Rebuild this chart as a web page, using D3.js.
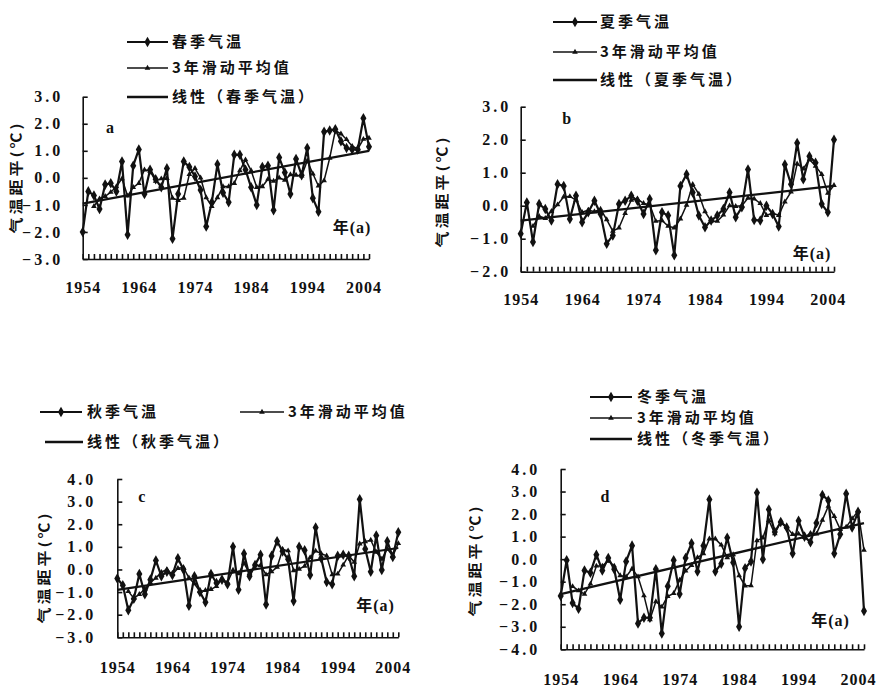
<!DOCTYPE html>
<html>
<head>
<meta charset="utf-8">
<script src="https://cdn.jsdelivr.net/npm/d3@7"></script>
<style>
body { margin: 0; background: #fff; }
text { fill: #111; }
</style>
</head>
<body>
<svg id="chart" width="878" height="687"></svg>
<script>
// years on the x axis
var years = [1954,1955,1956,1957,1958,1959,1960,1961,1962,1963,
             1964,1965,1966,1967,1968,1969,1970,1971,1972,1973,
             1974,1975,1976,1977,1978,1979,1980,1981,1982,1983,
             1984,1985,1986,1987,1988,1989,1990,1991,1992,1993,
             1994,1995,1996,1997,1998,1999,2000,2001,2002,2003,
             2004,2005];
var yearLabels = [1954, 1964, 1974, 1984, 1994, 2004];

// spring (a)
var springTemp = [-2.0,-0.5,-0.65,-1.15,-0.25,-0.2,-0.5,0.6,-2.1,0.45,
                  1.05,-0.6,0.3,-0.05,-0.35,0.35,-2.25,-0.6,0.6,0.4,
                  0.05,-0.45,-1.8,-0.9,0.5,-0.55,-0.9,0.85,0.85,0.3,
                  -0.35,-1.0,0.4,0.45,-1.2,0.75,0.2,-0.6,0.7,0.1,
                  1.1,-0.75,-1.25,1.7,1.75,1.8,1.35,1.1,1.05,1.05,
                  2.2,1.15];
var springMA = [null,null,-1.05,-0.77,-0.68,-0.53,-0.32,-0.03,-0.67,-0.35,
                -0.2,0.3,0.25,-0.12,-0.03,-0.02,-0.75,-0.83,-0.75,0.13,
                0.35,0.0,-0.73,-1.05,-0.73,-0.32,-0.32,-0.2,0.27,0.67,
                0.27,-0.35,-0.32,-0.05,-0.12,0.0,-0.08,0.12,0.1,0.07,
                0.63,0.15,-0.3,-0.1,0.73,1.75,1.63,1.42,1.17,1.07,
                1.43,1.47];
var springTrend = [-0.95, 1.0];

// summer (b)
var summerTemp = [-0.85,0.1,-1.1,0.05,-0.1,-0.45,0.65,0.6,-0.4,0.3,
                  -0.5,-0.2,0.15,-0.25,-1.15,-0.9,0.05,0.15,0.3,0.15,
                  -0.25,0.2,-1.35,-0.2,-0.3,-1.5,0.6,0.95,0.4,-0.3,
                  -0.65,-0.45,-0.3,-0.1,0.4,-0.35,-0.05,1.1,-0.43,-0.45,
                  0.0,-0.25,-0.63,1.25,0.65,1.9,0.8,1.5,1.3,0.05,
                  -0.2,2.0];
var summerMA = [null,null,-0.62,-0.32,-0.38,-0.17,0.03,0.27,0.28,0.17,
                -0.2,-0.13,-0.18,-0.1,-0.42,-0.77,-0.67,-0.23,0.17,0.2,
                0.07,0.03,-0.47,-0.45,-0.62,-0.67,-0.4,0.02,0.65,0.35,
                -0.18,-0.47,-0.47,-0.28,0.0,-0.02,0.0,0.23,0.21,0.07,
                -0.29,-0.23,-0.29,0.12,0.42,1.27,1.12,1.4,1.2,0.95,
                0.38,0.62];
var summerTrend = [-0.45, 0.6];

// autumn (c)
var autumnTemp = [-0.4,-0.7,-1.8,-1.3,-0.2,-1.1,-0.45,0.4,-0.3,-0.1,
                  -0.25,0.5,0.0,-1.6,-0.3,-1.0,-1.45,-0.2,-0.6,-0.45,
                  -0.65,1.0,-0.9,0.7,-0.3,0.2,0.65,-1.55,0.6,1.25,
                  0.8,0.45,-1.4,1.0,0.85,-0.25,1.85,0.5,-0.55,-0.65,
                  0.6,0.65,0.6,-0.3,3.1,0.9,-0.1,1.5,-0.02,1.25,
                  0.55,1.65];
var autumnMA = [null,null,-0.97,-1.27,-1.1,-0.87,-0.58,-0.38,-0.12,0.0,
                -0.22,0.05,0.08,-0.37,-0.63,-0.97,-0.92,-0.88,-0.75,-0.42,
                -0.57,-0.03,-0.18,0.27,-0.17,0.2,0.18,-0.23,-0.1,0.1,
                0.88,0.83,-0.05,0.02,0.15,0.53,0.82,0.7,0.6,-0.23,
                -0.2,0.2,0.62,0.32,1.13,1.23,1.3,0.77,0.46,0.91,
                0.59,1.15];
var autumnTrend = [-0.9, 0.95];

// winter (d)
var winterTemp = [-1.63,-0.05,-1.95,-2.2,-0.5,-0.6,0.2,-0.5,0.05,-0.45,
                  -1.8,-0.1,0.6,-2.85,-2.6,-2.6,-0.45,-3.3,-1.2,-0.05,
                  -1.55,0.05,0.7,-0.55,0.6,2.65,-0.55,-0.2,0.95,-0.15,
                  -3.0,-0.4,-0.1,2.95,0.0,2.2,1.2,1.65,1.4,0.25,
                  1.7,1.0,0.75,1.6,2.85,2.6,0.25,1.1,2.9,1.4,
                  2.1,-2.3];
var winterMA = [null,null,-1.21,-1.4,-1.55,-1.1,-0.3,-0.3,-0.08,-0.3,
                -0.73,-0.78,-0.43,-0.78,-1.62,-2.68,-1.88,-2.12,-1.65,-1.52,
                -0.93,-0.52,-0.27,0.07,0.25,0.9,0.9,0.63,0.07,0.2,
                -0.73,-1.18,-1.17,0.82,0.95,1.72,1.13,1.68,1.42,1.1,
                1.12,0.98,1.15,1.12,1.73,2.35,1.9,1.32,1.42,1.8,
                2.13,0.4];
var winterTrend = [-1.55, 1.6];

var ticksA = [3, 2, 1, 0, -1, -2, -3];
var ticksB = [3, 2, 1, 0, -1, -2];
var ticksC = [4, 3, 2, 1, 0, -1, -2, -3];
var ticksD = [4, 3, 2, 1, 0, -1, -2, -3, -4];

var maLabel = "3年滑动平均值";

// layout of the four panels
var panels = [
  {name: "春季气温", temp: springTemp, ma: springMA, trend: springTrend, ticks: ticksA, tag: "a",
   left: 82.7, right: 369, top: 96.7, bottom: 259, yPad: 19.5, xPad: 23,
   title: [16, 177], tagPos: [110, 127], unitPos: [352, 227],
   legend: [[127, 168, 42, 172], [127, 168, 68, 172], [127, 168, 97, 172]]},
  {name: "夏季气温", temp: summerTemp, ma: summerMA, trend: summerTrend, ticks: ticksB, tag: "b",
   left: 520.7, right: 834, top: 106.7, bottom: 271.7, yPad: 9.5, xPad: 22,
   title: [442, 191], tagPos: [566.7, 118.3], unitPos: [812, 253],
   legend: [[553, 597, 22, 600], [553, 597, 52, 600], [553, 597, 80, 600]]},
  {name: "秋季气温", temp: autumnTemp, ma: autumnMA, trend: autumnTrend, ticks: ticksC, tag: "c",
   left: 117.3, right: 398.3, top: 479, bottom: 637.3, yPad: 21, xPad: 24,
   title: [44, 567], tagPos: [141.7, 496.7], unitPos: [375.5, 605],
   legend: [[40, 82, 412, 87], [240, 284, 412, 288], [45, 83, 442, 87]]},
  {name: "冬季气温", temp: winterTemp, ma: winterMA, trend: winterTrend, ticks: ticksD, tag: "d",
   left: 560.7, right: 864, top: 469, bottom: 649.3, yPad: 20.5, xPad: 24,
   title: [475, 560], tagPos: [605, 496.7], unitPos: [830.5, 620],
   legend: [[590, 632, 397, 637], [590, 632, 418, 637], [590, 632, 439, 637]]}
];

var ink = "#111";
var cjk = "'Noto Sans CJK SC', sans-serif";
var serif = "'Liberation Serif', 'Noto Sans CJK SC', serif";

var svg = d3.select("#chart");
var fmt = d3.format(".1f");
var diamond = d3.symbol().type(d3.symbolDiamond).size(32);
var triangle = d3.symbol().type(d3.symbolTriangle).size(14);

panels.forEach(function(p) {
    var g = svg.append("g");

    var x = d3.scaleLinear().domain([years[0], years[years.length - 1]]).range([p.left, p.right]);
    var y = d3.scaleLinear().domain(d3.extent(p.ticks)).range([p.bottom, p.top]);

    // yearly ticks pointing up
    g.append("g")
        .attr("transform", "translate(0," + p.bottom + ")")
        .call(d3.axisBottom(x).tickValues(years).tickSize(-5).tickSizeOuter(0).tickFormat(""));

    // year labels
    g.append("g")
        .attr("transform", "translate(0," + p.bottom + ")")
        .call(d3.axisBottom(x).tickValues(yearLabels).tickSize(0).tickPadding(p.xPad).tickFormat(d3.format("d")))
        .call(function(s) { s.select(".domain").remove(); })
        .selectAll("text")
            .attr("font-family", serif).attr("font-weight", "bold")
            .attr("font-size", 16).attr("letter-spacing", "1px");

    // value axis
    g.append("g")
        .attr("transform", "translate(" + p.left + ",0)")
        .call(d3.axisLeft(y).tickValues(p.ticks).tickSize(-5).tickSizeOuter(0).tickPadding(p.yPad).tickFormat(fmt))
        .selectAll("text")
            .attr("font-family", serif).attr("font-weight", "bold")
            .attr("font-size", 16).attr("letter-spacing", "3px");

    g.selectAll(".domain, .tick line").attr("stroke", ink).attr("stroke-width", 1.6);

    // linear trend
    g.append("path")
        .datum([[years[0], p.trend[0]], [years[years.length - 1], p.trend[1]]])
        .attr("fill", "none").attr("stroke", ink).attr("stroke-width", 2.2)
        .attr("d", d3.line().x(function(d) { return x(d[0]); }).y(function(d) { return y(d[1]); }));

    // 3-year moving average
    var maPts = years.map(function(yr, i) { return [yr, p.ma[i]]; })
        .filter(function(d) { return d[1] !== null; });
    g.append("path")
        .datum(maPts)
        .attr("fill", "none").attr("stroke", ink).attr("stroke-width", 1.5)
        .attr("d", d3.line().x(function(d) { return x(d[0]); }).y(function(d) { return y(d[1]); }));
    g.append("g").selectAll("path")
        .data(maPts).enter().append("path")
            .attr("transform", function(d) { return "translate(" + x(d[0]) + "," + y(d[1]) + ")"; })
            .attr("d", triangle).attr("fill", ink);

    // seasonal temperature anomaly
    var pts = years.map(function(yr, i) { return [yr, p.temp[i]]; });
    g.append("path")
        .datum(pts)
        .attr("fill", "none").attr("stroke", ink).attr("stroke-width", 2.2)
        .attr("stroke-linejoin", "round")
        .attr("d", d3.line().x(function(d) { return x(d[0]); }).y(function(d) { return y(d[1]); }));
    g.append("g").selectAll("path")
        .data(pts).enter().append("path")
            .attr("transform", function(d) { return "translate(" + x(d[0]) + "," + y(d[1]) + ")"; })
            .attr("d", diamond).attr("fill", ink);

    // y title
    g.append("text")
        .attr("transform", "translate(" + p.title[0] + "," + p.title[1] + ") rotate(-90) scale(1,0.85)")
        .attr("text-anchor", "middle").attr("dy", "0.35em")
        .attr("font-family", cjk).attr("font-weight", "bold")
        .attr("font-size", 16).attr("letter-spacing", "3px")
        .text("气温距平(℃)");

    // panel tag and unit
    g.append("text")
        .attr("x", p.tagPos[0]).attr("y", p.tagPos[1]).attr("dy", "0.35em")
        .attr("text-anchor", "middle")
        .attr("font-family", serif).attr("font-weight", "bold").attr("font-size", 16)
        .text(p.tag);
    g.append("text")
        .attr("x", p.unitPos[0]).attr("y", p.unitPos[1]).attr("dy", "0.35em")
        .attr("text-anchor", "middle")
        .attr("font-family", serif).attr("font-weight", "bold").attr("font-size", 16)
        .attr("letter-spacing", "1px")
        .text("年(a)");

    // legend
    var items = [
        {label: p.name, width: 2.2, marker: diamond},
        {label: maLabel, width: 1.5, marker: triangle},
        {label: "线性（" + p.name + "）", width: 2.4, marker: null}
    ];
    items.forEach(function(it, i) {
        var L = p.legend[i];
        var lg = g.append("g");
        lg.append("line")
            .attr("x1", L[0]).attr("x2", L[1]).attr("y1", L[2]).attr("y2", L[2])
            .attr("stroke", ink).attr("stroke-width", it.width);
        if (it.marker) {
            lg.append("path")
                .attr("transform", "translate(" + ((L[0] + L[1]) / 2) + "," + L[2] + ")")
                .attr("d", it.marker).attr("fill", ink);
        }
        lg.append("text")
            .attr("x", L[3]).attr("y", L[2]).attr("dy", "0.36em")
            .attr("font-family", cjk).attr("font-weight", "bold")
            .attr("font-size", 15).attr("letter-spacing", "3px")
            .text(it.label);
    });
});
</script>
</body>
</html>
